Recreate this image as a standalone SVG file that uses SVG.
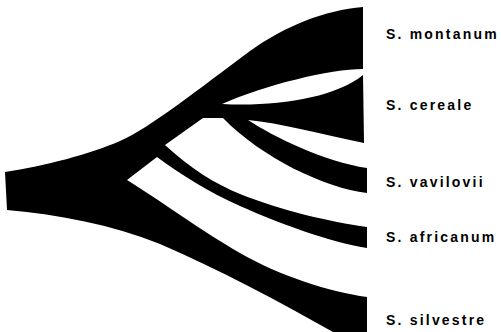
<svg xmlns="http://www.w3.org/2000/svg" width="501" height="332" viewBox="0 0 501 332">
<style>
.lbl{font-family:"Liberation Sans",Arial,sans-serif;font-size:14px;font-weight:bold;letter-spacing:2.2px;fill:#000}
.br{fill:#000;stroke:none}
</style>
<rect width="501" height="332" fill="#fff"/>
<g id="connectors">
<path class="br" d="M5,172 C45,166 90,154 120,141 C150,128 200,88 250,51 C285,26 325,10 363,7 L363,69 C330,69 265,85 222,104 C275,107 335,98 363,75 L364,143 C320,134 280,123 248,120 C272,136 325,162 367,168 L367,193 C325,188 262,158 223,118 L203,118 L165,145 C190,168 215,184 240,194 C280,210 330,222 367,227 L367,248 C330,242 280,224 240,206 C210,193 180,174 157,157 L127,180 C170,207 200,230 240,253 C280,276 330,292 367,297 L367,332 L333,332 C280,302 220,270 160,244 C110,224 60,215 7,210 Z"/>
</g>
<g id="node-montanum"><text class="lbl" x="386" y="39">S. montanum</text></g>
<g id="node-cereale"><text class="lbl" x="386" y="110">S. cereale</text></g>
<g id="node-vavilovii"><text class="lbl" x="386" y="187">S. vavilovii</text></g>
<g id="node-africanum"><text class="lbl" x="386" y="242">S. africanum</text></g>
<g id="node-silvestre"><text class="lbl" x="386" y="325">S. silvestre</text></g>
</svg>
